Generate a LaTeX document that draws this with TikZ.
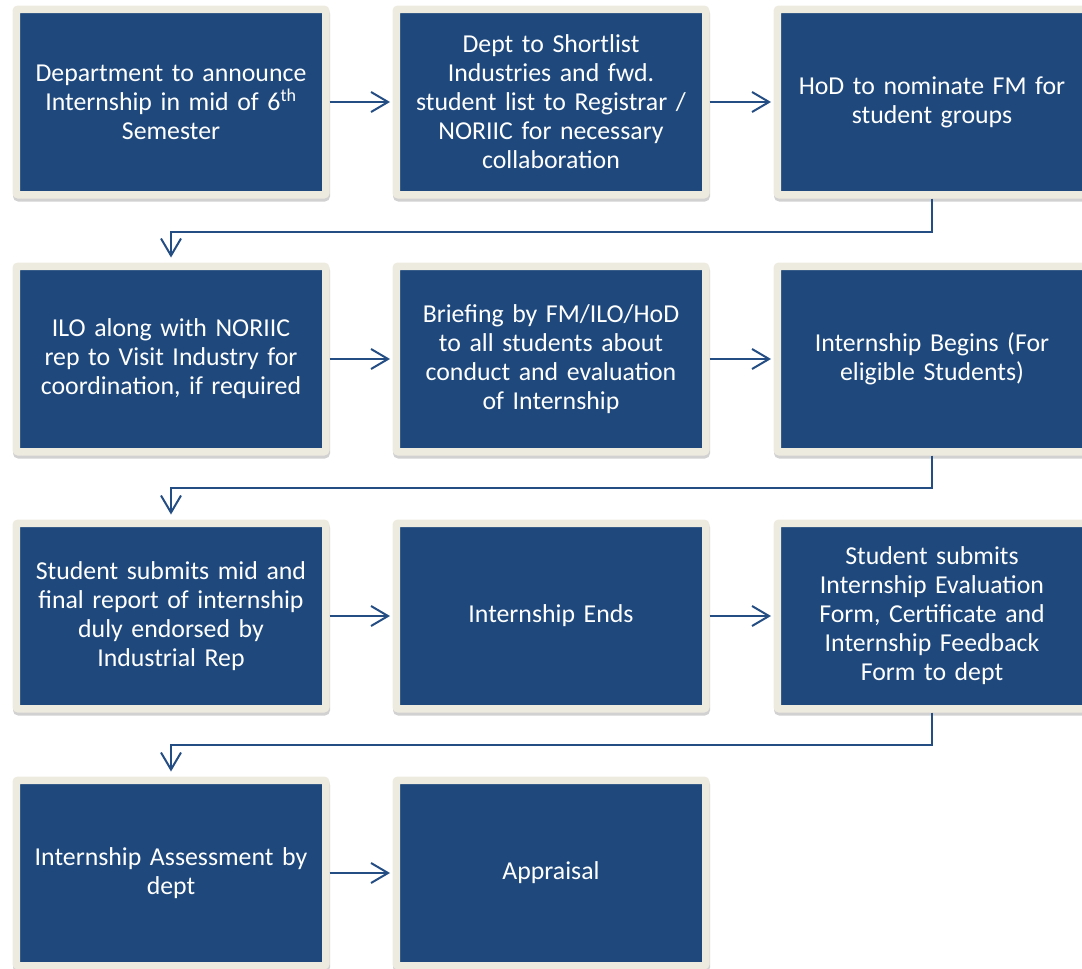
\documentclass[tikz,border=0pt]{standalone}
\usepackage{fontspec}
\setmainfont{Carlito}
\usepackage{xcolor}
\usepackage{tikz}
\usetikzlibrary{arrows.meta,shadows}

\definecolor{boxblue}{RGB}{31,73,125}
\definecolor{framecream}{RGB}{237,234,223}
\definecolor{linkblue}{RGB}{36,77,132}

\begin{document}
\begin{tikzpicture}[x=1pt,y=-1pt,
    stagebox/.style={draw=framecream, fill=boxblue, line width=7.5pt,
        rounded corners=2pt, minimum width=309.5pt, minimum height=185.5pt,
        text width=295pt, align=center, text=white, inner sep=0pt,
        font=\fontsize{25.8}{29}\selectfont,
        drop shadow={shadow xshift=0.5pt, shadow yshift=-3pt, opacity=0.3,
            fill=black!60, draw=black!60, line width=7.5pt}},
    link/.style={draw=linkblue, line width=2pt,
        -{Straight Barb[length=17pt,width=20pt,line width=2pt]}}]
    \useasboundingbox (0,0) rectangle (1082,969);
    \clip (0,0) rectangle (1082,969);

    \node[stagebox] (announce) at (171, 102) {Department to announce\\ Internship in mid of 6\textsuperscript{th}\\ Semester};

    \node[stagebox] (shortlist) at (551, 102) {Dept to Shortlist\\ Industries and fwd.\\ student list to Registrar /\\ NORIIC for necessary\\ collaboration};

    \node[stagebox] (nominate) at (932, 102) {HoD to nominate FM for\\ student groups};

    \node[stagebox] (visit) at (171, 359) {ILO along with NORIIC\\ rep to Visit Industry for\\ coordination, if required};

    \node[stagebox] (briefing) at (551, 359) {Briefing by FM/ILO/HoD\\ to all students about\\ conduct and evaluation\\ of Internship};

    \node[stagebox] (begins) at (932, 359) {Internship Begins (For\\ eligible Students)};

    \node[stagebox] (report) at (171, 616) {Student submits mid and\\ final report of internship\\ duly endorsed by\\ Industrial Rep};

    \node[stagebox] (ends) at (551, 616) {Internship Ends};

    \node[stagebox] (evaluation) at (932, 616) {Student submits\\ Internship Evaluation\\ Form, Certificate and\\ Internship Feedback\\ Form to dept};

    \node[stagebox] (assessment) at (171, 873) {Internship Assessment by\\ dept};

    \node[stagebox] (appraisal) at (551, 873) {Appraisal};

    \draw[link, shorten >=2.5pt] (announce) to (shortlist);

    \draw[link, shorten >=2.5pt] (shortlist) to (nominate);

    \draw[link, shorten >=5pt] (nominate.south) -- ++(0,33) -| (visit.north);

    \draw[link, shorten >=2.5pt] (visit) to (briefing);

    \draw[link, shorten >=2.5pt] (briefing) to (begins);

    \draw[link, shorten >=5pt] (begins.south) -- ++(0,32) -| (report.north);

    \draw[link, shorten >=2.5pt] (report) to (ends);

    \draw[link, shorten >=2.5pt] (ends) to (evaluation);

    \draw[link, shorten >=5pt] (evaluation.south) -- ++(0,32) -| (assessment.north);

    \draw[link, shorten >=2.5pt] (assessment) to (appraisal);
\end{tikzpicture}
\end{document}
